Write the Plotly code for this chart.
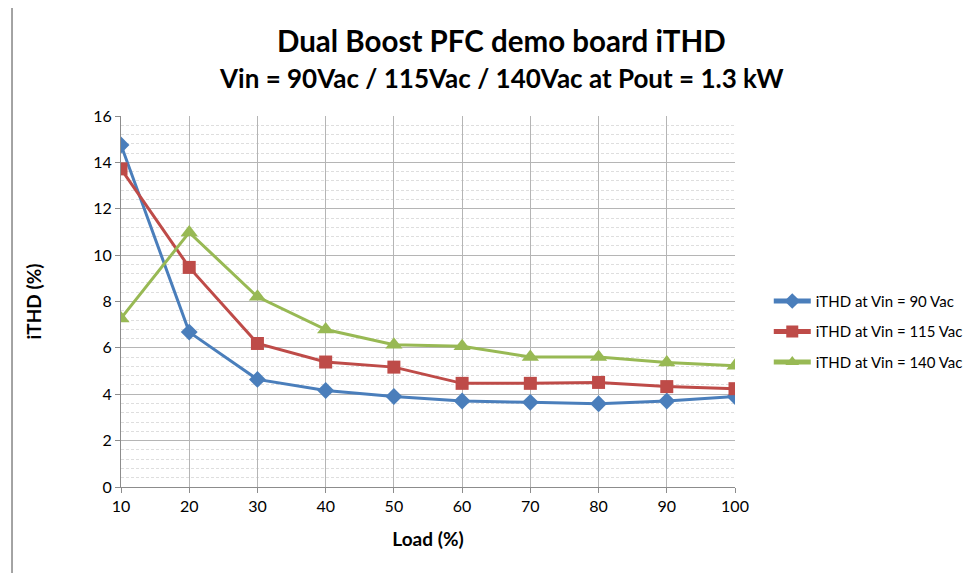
import plotly.graph_objects as go

load = [10, 20, 30, 40, 50, 60, 70, 80, 90, 100]
ithd_90 = [14.75, 6.68, 4.64, 4.16, 3.9, 3.71, 3.65, 3.59, 3.71, 3.9]
ithd_115 = [13.72, 9.47, 6.19, 5.39, 5.17, 4.47, 4.47, 4.51, 4.33, 4.24]
ithd_140 = [7.27, 10.98, 8.2, 6.79, 6.14, 6.07, 5.61, 5.61, 5.37, 5.23]
series_names = ["iTHD at Vin = 90 Vac", "iTHD at Vin = 115 Vac", "iTHD at Vin = 140 Vac"]
x_ticks = [10, 20, 30, 40, 50, 60, 70, 80, 90, 100]
y_ticks = [0, 2, 4, 6, 8, 10, 12, 14, 16]

colors = ["#4A7EBB", "#BE4B48", "#98B954"]
symbols = ["diamond", "square", "triangle-up"]
sizes = [13, 13, 15]

FONT = "Lato, Carlito, Calibri, sans-serif"

fig = go.Figure()
for i, (vals, name, c, s, sz) in enumerate(zip([ithd_90, ithd_115, ithd_140], series_names, colors, symbols, sizes)):
    fig.add_trace(go.Scatter(
        x=load, y=vals, name=name, mode="lines+markers", legendgroup=f"g{i}",
        line=dict(color=c, width=3),
        marker=dict(symbol=s, size=sz, color=c),
    ))

fig.update_layout(
    width=977, height=573,
    margin=dict(l=113, r=250, t=108, b=94),
    paper_bgcolor="white", plot_bgcolor="white",
    font=dict(family=FONT, size=16, color="#000000"),
    showlegend=True,
    legend=dict(x=1.055, y=0.545, xanchor="left", yanchor="top",
                font=dict(size=15, family=FONT), tracegroupgap=8, itemwidth=37,
                itemsizing="constant", bgcolor="rgba(0,0,0,0)"),
    xaxis=dict(
        range=[10, 100], tickvals=x_ticks, ticktext=[str(v) for v in x_ticks],
        showgrid=True, gridcolor="#B5B5B5", gridwidth=1,
        showline=True, linecolor="#8C8C8C", linewidth=1,
        ticks="outside", ticklen=5, tickcolor="#8C8C8C",
        zeroline=False, tickfont=dict(size=16),
        title=dict(text="<b>Load (%)</b>", font=dict(size=19), standoff=18),
    ),
    yaxis=dict(
        range=[0, 16], tickvals=y_ticks, ticktext=[str(v) for v in y_ticks],
        showgrid=True, gridcolor="#B5B5B5", gridwidth=1,
        showline=True, linecolor="#8C8C8C", linewidth=1,
        ticks="outside", ticklen=5, tickcolor="#8C8C8C",
        zeroline=False, tickfont=dict(size=16),
        minor=dict(dtick=0.4, showgrid=True, gridcolor="#DEDEDE", griddash="3px,2px", gridwidth=1),
        title=dict(text="<b>iTHD (%)</b>", font=dict(size=19), standoff=46),
    ),
    shapes=[dict(type="rect", xref="paper", yref="paper",
                 x0=-0.1775, x1=1.45, y0=-0.35, y1=1.3046,
                 line=dict(color="#868686", width=1.5), layer="below")],
    annotations=[
        dict(text="<b>Dual Boost PFC demo board iTHD</b>", xref="paper", yref="paper",
             x=0.6205, y=1 + (116 - 40) / 371, xanchor="center", yanchor="middle",
             showarrow=False, font=dict(size=29.5, family=FONT)),
        dict(text="<b>Vin = 90Vac / 115Vac / 140Vac at Pout = 1.3 kW</b>", xref="paper", yref="paper",
             x=0.6205, y=1 + (116 - 78) / 371, xanchor="center", yanchor="middle",
             showarrow=False, font=dict(size=26, family=FONT)),
    ],
)

fig.write_html("out.html")
